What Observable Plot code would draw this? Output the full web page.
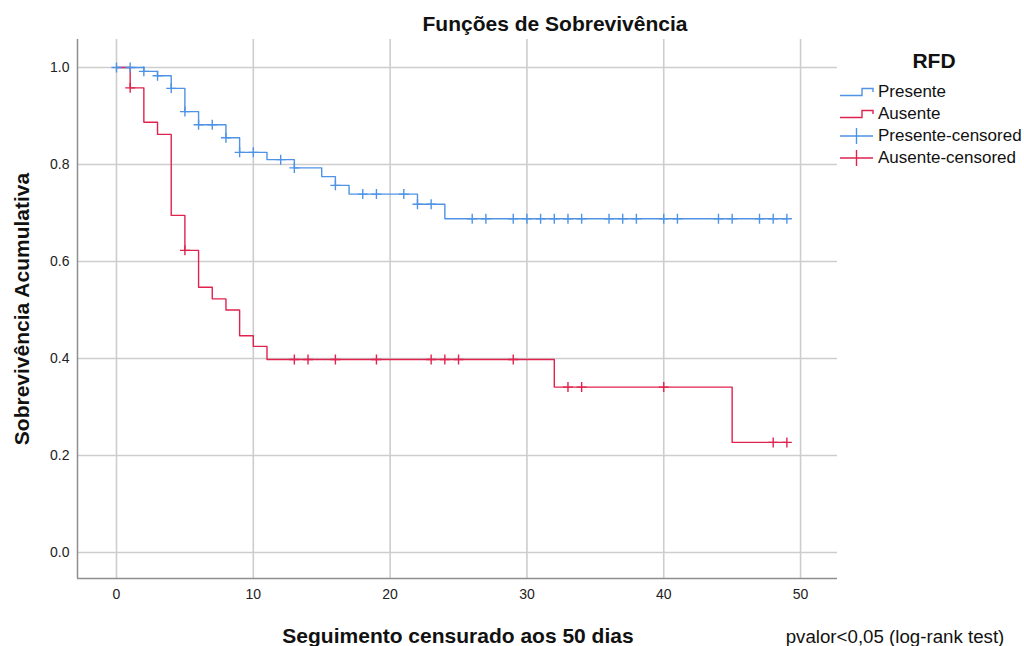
<!DOCTYPE html>
<html>
<head>
<meta charset="utf-8">
<script src="https://cdn.jsdelivr.net/npm/d3@7"></script>
<script src="https://cdn.jsdelivr.net/npm/@observablehq/plot@0.6"></script>
<style>
  html, body { margin: 0; padding: 0; background: #fff; }
  #wrap { position: relative; width: 1024px; height: 646px; overflow: hidden; font-family: "Liberation Sans", Arial, sans-serif; color: #111; }
  #wrap svg.plot { position: absolute; left: 0; top: 0; }
  .t { position: absolute; white-space: nowrap; transform: translate(-50%, -50%); line-height: 1; }
  .legend-row { position: absolute; left: 840px; height: 20px; display: flex; align-items: center; font-size: 17px; }
  .legend-row svg { margin-right: 4px; }
</style>
</head>
<body>
<div id="wrap"></div>
<script>
// ---- data ----
const groups = ["Presente", "Ausente"];
const colors = ["#4f93e6", "#e0234e"];

// step curves: times where survival changes, and the survival after the change
const presenteTimes = [0, 2, 3, 4, 5, 6, 8, 9, 11, 13, 15, 16, 17, 22, 24, 49];
const presenteSurv  = [1.0, 0.992, 0.983, 0.957, 0.909, 0.882, 0.855, 0.825, 0.810, 0.793, 0.775, 0.757, 0.739, 0.718, 0.688, 0.688];
const ausenteTimes  = [0, 1, 2, 3, 4, 5, 6, 7, 8, 9, 10, 11, 32, 45, 49];
const ausenteSurv   = [1.0, 0.958, 0.887, 0.862, 0.695, 0.623, 0.547, 0.523, 0.500, 0.447, 0.425, 0.398, 0.341, 0.227, 0.227];

// censored observation times
const presenteCensored = [0, 1, 2, 3, 4, 5, 6, 7, 8, 9, 10, 12, 13, 16, 18, 19, 21, 22, 23, 26, 27, 29, 30, 31, 32, 33, 34, 36, 37, 38, 40, 41, 44, 45, 47, 48, 49];
const ausenteCensored  = [1, 5, 13, 14, 16, 19, 23, 24, 25, 29, 33, 34, 40, 48, 49];

const xTicks = [0, 10, 20, 30, 40, 50];
const yTicks = [0.0, 0.2, 0.4, 0.6, 0.8, 1.0];
const xDomain = [-2.85, 52.7];
const yDomain = [-0.0536, 1.0577];

// ---- build tables ----
const steps = [];
presenteTimes.forEach((t, i) => steps.push({group: "Presente", t, s: presenteSurv[i]}));
ausenteTimes.forEach((t, i) => steps.push({group: "Ausente", t, s: ausenteSurv[i]}));

function survAt(times, surv, t) {
  let s = surv[0];
  for (let i = 0; i < times.length; i++) if (times[i] <= t) s = surv[i];
  return s;
}
const censored = [];
presenteCensored.forEach(t => censored.push({group: "Presente", t, s: survAt(presenteTimes, presenteSurv, t)}));
ausenteCensored.forEach(t => censored.push({group: "Ausente", t, s: survAt(ausenteTimes, ausenteSurv, t)}));

const plusSymbol = {
  draw(ctx) {
    const a = 5;
    ctx.moveTo(-a, 0); ctx.lineTo(a, 0);
    ctx.moveTo(0, -a); ctx.lineTo(0, a);
  }
};

const plot = Plot.plot({
  width: 1024,
  height: 646,
  marginLeft: 77,
  marginRight: 187,
  marginTop: 39,
  marginBottom: 68,
  x: {domain: xDomain, label: null},
  y: {domain: yDomain, label: null},
  color: {domain: groups, range: colors},
  style: {fontFamily: "Liberation Sans, Arial, sans-serif", fontSize: "14px", color: "#222", background: "transparent"},
  marks: [
    Plot.gridX(xTicks, {stroke: "#cdcdcd", strokeOpacity: 1, strokeWidth: 1.6}),
    Plot.gridY(yTicks, {stroke: "#cdcdcd", strokeOpacity: 1, strokeWidth: 1.6}),
    Plot.ruleX([xDomain[0]], {stroke: "#8e8e8e", strokeWidth: 1.5}),
    Plot.ruleY([yDomain[0]], {stroke: "#8e8e8e", strokeWidth: 1.5}),
    Plot.axisX(xTicks, {tickSize: 0, tickPadding: 11, tickFormat: d => String(d), fontSize: 14, fill: "#222"}),
    Plot.axisY(yTicks, {tickSize: 0, tickPadding: 8, tickFormat: d => d.toFixed(1), fontSize: 14, fill: "#222"}),
    Plot.line(steps, {x: "t", y: "s", z: "group", stroke: "group", curve: "step-after", strokeWidth: 1.4}),
    Plot.dot(censored, {x: "t", y: "s", stroke: "group", symbol: plusSymbol, fill: "none", strokeWidth: 1.4})
  ]
});
plot.classList.add("plot");
const wrap = document.getElementById("wrap");
wrap.appendChild(plot);

function addText(txt, x, y, css, rotate) {
  const d = document.createElement("div");
  d.className = "t";
  d.textContent = txt;
  d.style.left = x + "px";
  d.style.top = y + "px";
  Object.assign(d.style, css);
  if (rotate) d.style.transform = "translate(-50%, -50%) rotate(-90deg)";
  wrap.appendChild(d);
}
addText("Funções de Sobrevivência", 555, 23, {fontSize: "21px", fontWeight: "bold"});
addText("Seguimento censurado aos 50 dias", 458, 635, {fontSize: "21px", fontWeight: "bold"});
addText("Sobrevivência Acumulativa", 21, 309, {fontSize: "21px", fontWeight: "bold"}, true);
addText("pvalor<0,05 (log-rank test)", 895, 637, {fontSize: "18.7px"});
addText("RFD", 934, 60, {fontSize: "21px", fontWeight: "bold"});

// legend
const legendItems = [
  {label: "Presente", color: colors[0], kind: "step"},
  {label: "Ausente", color: colors[1], kind: "step"},
  {label: "Presente-censored", color: colors[0], kind: "cens"},
  {label: "Ausente-censored", color: colors[1], kind: "cens"}
];
legendItems.forEach((it, i) => {
  const row = document.createElement("div");
  row.className = "legend-row";
  row.style.top = (82 + i * 22) + "px";
  const ns = "http://www.w3.org/2000/svg";
  const s = document.createElementNS(ns, "svg");
  s.setAttribute("width", 34); s.setAttribute("height", 20);
  const p = document.createElementNS(ns, "path");
  p.setAttribute("d", it.kind === "step" ? "M0,13.5 H22 V6.5 H33 V10" : "M0,10 H33 M16.5,2 V18");
  p.setAttribute("fill", "none");
  p.setAttribute("stroke", it.color);
  p.setAttribute("stroke-width", 1.4);
  s.appendChild(p);
  row.appendChild(s);
  const sp = document.createElement("span");
  sp.textContent = it.label;
  row.appendChild(sp);
  wrap.appendChild(row);
});
</script>
</body>
</html>
